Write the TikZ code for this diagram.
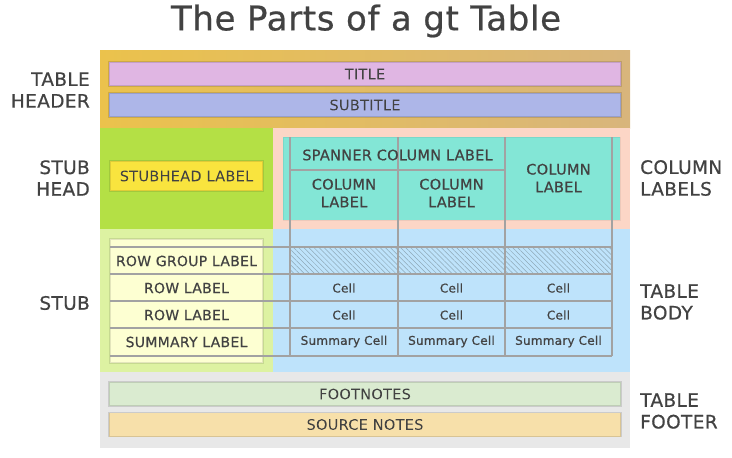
\documentclass[tikz,border=0pt]{standalone}
\usepackage{fontspec}
\setmainfont{DejaVu Sans}[FakeBold=0.6,LetterSpace=2]
\usepackage{xcolor}
\usetikzlibrary{patterns.meta}
\definecolor{ink}{HTML}{424242}
\definecolor{gridgray}{HTML}{A2A2A2}
\definecolor{hatchgray}{HTML}{8FA9B8}
\definecolor{headgoldL}{HTML}{EBC24C}
\definecolor{headgoldR}{HTML}{D8B57C}
\definecolor{titlepink}{HTML}{E0B6E3}
\definecolor{subblue}{HTML}{ADB6E8}
\definecolor{stubgreen}{HTML}{B4E045}
\definecolor{stubyellow}{HTML}{F9E43E}
\definecolor{colpeach}{HTML}{FCD6C6}
\definecolor{colteal}{HTML}{83E6D6}
\definecolor{stublight}{HTML}{DDF2A2}
\definecolor{rowyellow}{HTML}{FDFFD2}
\definecolor{bodyblue}{HTML}{BEE3FB}
\definecolor{footgray}{HTML}{E8E8E8}
\definecolor{footgreen}{HTML}{DAEBD0}
\definecolor{sourceorange}{HTML}{F7E0AA}
\newcommand{\fs}[2]{\fontsize{#1}{#2}\selectfont}

\begin{document}
\begin{tikzpicture}[x=1pt,y=-1pt,
  bar/.style={draw=black,draw opacity=0.12,line width=1.2pt,minimum width=512,minimum height=24,
    inner sep=0pt,text=ink,font=\fs{14.5}{17.5}},
  partname/.style={text=ink,font=\fs{18.5}{21.7},inner sep=0pt},
  collabel/.style={text=ink,font=\fs{14.5}{17.7},align=center,inner sep=0pt},
  rowlabel/.style={text=ink,font=\fs{14}{17},inner sep=0pt},
  cell/.style={text=ink,font=\fs{12}{15},inner sep=0pt},
  gridline/.style={draw=gridgray,line width=1.2pt}]
  \useasboundingbox (0,0) rectangle (732,458);
  \node[text=ink,font=\fs{34}{40}] (heading) at (366,21) {The Parts of a gt Table};

  % regions
  \shade[left color=headgoldL,right color=headgoldR] (100,50) rectangle (630,128);
  \fill[stubgreen] (100,128) rectangle (273,229);
  \fill[colpeach] (273,128) rectangle (630,229);
  \fill[stublight] (100,229) rectangle (273,372);
  \fill[bodyblue] (273,229) rectangle (630,372);
  \fill[footgray] (100,372) rectangle (630,448);

  \node[bar,fill=titlepink] (title) at (365,74) {TITLE};
  \node[bar,fill=subblue] (subtitle) at (365,105) {SUBTITLE};
  \node[bar,fill=footgreen] (footnotes) at (365,394) {FOOTNOTES};
  \node[bar,fill=sourceorange] (sourcenotes) at (365,424.5) {SOURCE NOTES};

  \node[draw=black,draw opacity=0.1,line width=1.2pt,fill=stubyellow,minimum width=153,
    minimum height=30,inner sep=0pt,text=ink,font=\fs{14.5}{17.5}] (stubhead) at (186.5,176) {STUBHEAD LABEL};
  \filldraw[fill=colteal,draw=black,draw opacity=0.06,line width=1pt] (283,137) rectangle (620,220);
  \filldraw[fill=rowyellow,draw=black,draw opacity=0.1,line width=1.2pt] (110,239) rectangle (263,363);

  % column labels and body grid
  \fill[pattern={Lines[angle=-45,distance=3.6pt,line width=0.5pt]},pattern color=hatchgray]
    (290,247) rectangle (612,274);
  \foreach \xx in {290,398,505,612}
    \draw[gridline] (\xx,137) -- (\xx,356);
  \draw[gridline] (290,170) -- (505,170);
  \foreach \yy in {247,274,301,328,356}
    \draw[gridline] (110,\yy) -- (612,\yy);

  \node[collabel] (spanner) at (397.5,155) {SPANNER COLUMN LABEL};
  \node[collabel] (colA) at (344,193) {COLUMN\\LABEL};
  \node[collabel] (colB) at (451.5,193) {COLUMN\\LABEL};
  \node[collabel] (colC) at (558.5,178) {COLUMN\\LABEL};

  \node[rowlabel] (rowgroup) at (186.5,261) {ROW GROUP LABEL};
  \node[rowlabel] (rowA) at (186.5,288) {ROW LABEL};
  \node[rowlabel] (rowB) at (186.5,315) {ROW LABEL};
  \node[rowlabel] (summary) at (186.5,342) {SUMMARY LABEL};
  \node[cell] (cellA1) at (344,288) {Cell};
  \node[cell] (cellB1) at (451.5,288) {Cell};
  \node[cell] (cellC1) at (558.5,288) {Cell};
  \node[cell] (cellA2) at (344,315) {Cell};
  \node[cell] (cellB2) at (451.5,315) {Cell};
  \node[cell] (cellC2) at (558.5,315) {Cell};
  \node[cell] (sumA) at (344,341.5) {Summary Cell};
  \node[cell] (sumB) at (451.5,341.5) {Summary Cell};
  \node[cell] (sumC) at (558.5,341.5) {Summary Cell};

  % part names
  \node[partname,anchor=east,align=right] (tableheader) at (90,90) {TABLE\\HEADER};
  \node[partname,anchor=east,align=right] (stubheadname) at (90,178) {STUB\\HEAD};
  \node[partname,anchor=east,align=right] (stubname) at (90,303) {STUB};
  \node[partname,anchor=west,align=left] (collabels) at (640,178) {COLUMN\\LABELS};
  \node[partname,anchor=west,align=left] (tablebody) at (640,302) {TABLE\\BODY};
  \node[partname,anchor=west,align=left] (tablefooter) at (640,411) {TABLE\\FOOTER};
\end{tikzpicture}
\end{document}
